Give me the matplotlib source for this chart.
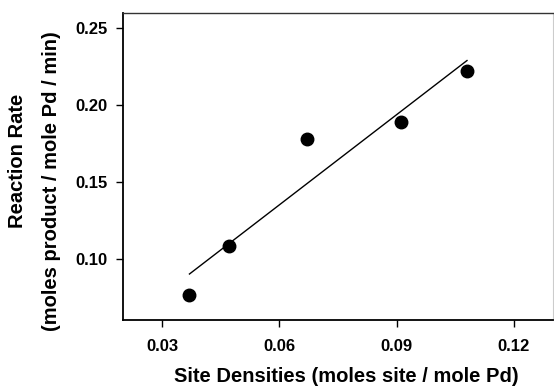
import numpy as np
import matplotlib
matplotlib.use("Agg")
import matplotlib.pyplot as plt

plt.rcParams["font.family"] = ["Liberation Sans", "DejaVu Sans"]

# 数据
site_density = [0.037, 0.047, 0.067, 0.091, 0.108]
reaction_rate = [0.076, 0.108, 0.178, 0.189, 0.222]
x_ticks = [0.03, 0.06, 0.09, 0.12]
y_ticks = [0.10, 0.15, 0.20, 0.25]

W, H = 554, 391
fig = plt.figure(figsize=(W / 100, H / 100), dpi=100)
ax = fig.add_axes([123 / W, 1 - 320 / H, (553 - 123) / W, (320 - 13) / H])

# 线性拟合
k, b = np.polyfit(site_density, reaction_rate, 1)
xf = np.array([min(site_density), max(site_density)])
ax.plot(xf, k * xf + b, color="black", lw=1.0)
ax.plot(site_density, reaction_rate, "o", color="black", ms=9)

ax.set_xlim(0.02, 0.13)
ax.set_ylim(0.06, 0.26)
ax.set_xticks(x_ticks)
ax.set_yticks(y_ticks)
ax.set_xticklabels(["%.2f" % v for v in x_ticks], fontsize=12, fontweight="bold")
ax.set_yticklabels(["%.2f" % v for v in y_ticks], fontsize=12, fontweight="bold")
ax.tick_params(axis="x", direction="out", length=5, width=1.0, pad=9)
ax.tick_params(axis="y", direction="out", length=5, width=1.0, pad=6)

for s in ["left", "bottom"]:
    ax.spines[s].set_linewidth(1.3)
ax.spines["top"].set_linewidth(1.0)
ax.spines["top"].set_color("#333333")
ax.spines["right"].set_color("#cccccc")
ax.spines["right"].set_linewidth(0.8)

# 坐标轴标题
fig.text(346 / W, 1 - 377 / H, "Site Densities (moles site / mole Pd)",
         fontsize=14.5, fontweight="bold", ha="center", va="center")
fig.text(18 / W, 1 - 161 / H, "Reaction Rate",
         fontsize=14.5, fontweight="bold", ha="center", va="center", rotation=90)
fig.text(52 / W, 1 - 181 / H, "(moles product / mole Pd / min)",
         fontsize=14.5, fontweight="bold", ha="center", va="center", rotation=90)

fig.savefig("out.png", dpi=100)
